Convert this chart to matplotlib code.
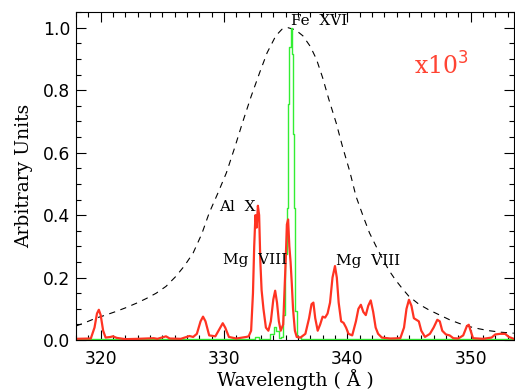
import matplotlib
matplotlib.use("Agg")
import matplotlib.pyplot as plt
from matplotlib.ticker import MultipleLocator

plt.rcParams['lines.scale_dashes'] = False

# Dashed instrument response curve
resp_wl = [318.0, 318.8, 319.6, 320.4, 321.2, 322.0, 322.9, 323.7, 324.5, 325.3,
           326.1, 326.8, 327.5, 328.2, 328.8, 329.5, 330.2, 330.9, 331.5, 332.2,
           332.9, 333.5, 334.2, 334.7, 335.2, 335.8, 336.4, 337.0, 337.5, 338.0,
           338.5, 339.1, 339.6, 340.2, 340.7, 341.3, 341.8, 342.4, 342.9, 343.4,
           343.9, 344.5, 345.0, 345.8, 346.6, 347.5, 348.3, 349.1, 349.9, 350.7,
           351.5, 352.5, 353.5]
resp_val = [0.045, 0.057, 0.070, 0.080, 0.091, 0.103, 0.118, 0.133, 0.150, 0.172,
            0.204, 0.238, 0.279, 0.340, 0.407, 0.470, 0.536, 0.620, 0.696, 0.780,
            0.857, 0.920, 0.974, 0.995, 1.000, 0.993, 0.974, 0.940, 0.899, 0.840,
            0.771, 0.695, 0.621, 0.540, 0.461, 0.395, 0.343, 0.295, 0.257, 0.222,
            0.193, 0.163, 0.140, 0.115, 0.097, 0.080, 0.065, 0.053, 0.043, 0.036,
            0.030, 0.025, 0.022]

# Red spectrum (x10^3)
red_wl = [318.0, 319.2, 319.5, 319.7, 319.85, 320.0, 320.2, 320.4, 320.8, 321.0,
          321.3, 322.0, 323.0, 324.3, 324.6, 325.3, 325.6, 326.5, 327.2, 327.5,
          327.8, 328.1, 328.3, 328.5, 328.8, 329.3, 329.7, 329.9, 330.1, 330.4,
          331.0, 331.8, 332.0, 332.2, 332.35, 332.45, 332.55, 332.65, 332.75, 332.85,
          332.95, 333.05, 333.2, 333.4, 333.6, 333.8, 334.0, 334.15, 334.3, 334.45,
          334.6, 334.8, 334.9, 335.0, 335.1, 335.2, 335.3, 335.4, 335.5, 335.6,
          335.75, 335.9, 336.2, 336.6, 336.9, 337.1, 337.25, 337.4, 337.6, 337.8,
          338.0, 338.2, 338.4, 338.6, 338.8, 339.0, 339.15, 339.3, 339.5, 339.7,
          339.9, 340.1, 340.4, 340.7, 340.9, 341.1, 341.3, 341.5, 341.7, 341.9,
          342.1, 342.3, 342.5, 342.8, 343.5, 344.3, 344.6, 344.8, 345.0, 345.2,
          345.4, 345.6, 345.8, 346.0, 346.3, 346.7, 347.0, 347.3, 347.5, 347.7,
          348.0, 348.3, 348.6, 349.0, 349.4, 349.7, 349.85, 350.0, 350.2, 351.0,
          351.7, 352.0, 352.4, 352.8, 353.1, 353.5]
red_val = [0.004, 0.005, 0.040, 0.085, 0.097, 0.080, 0.030, 0.008, 0.010, 0.012,
           0.007, 0.003, 0.004, 0.006, 0.004, 0.012, 0.005, 0.004, 0.013, 0.010,
           0.020, 0.060, 0.075, 0.060, 0.015, 0.012, 0.040, 0.054, 0.040, 0.010,
           0.005, 0.010, 0.012, 0.030, 0.150, 0.300, 0.400, 0.360, 0.430, 0.400,
           0.250, 0.160, 0.100, 0.040, 0.030, 0.060, 0.130, 0.158, 0.120, 0.060,
           0.030, 0.050, 0.150, 0.250, 0.370, 0.386, 0.300, 0.250, 0.180, 0.100,
           0.030, 0.010, 0.008, 0.020, 0.070, 0.115, 0.120, 0.070, 0.030, 0.050,
           0.075, 0.072, 0.085, 0.120, 0.200, 0.237, 0.200, 0.120, 0.060, 0.055,
           0.040, 0.020, 0.015, 0.060, 0.100, 0.113, 0.090, 0.080, 0.110, 0.127,
           0.090, 0.040, 0.020, 0.008, 0.005, 0.006, 0.040, 0.100, 0.129, 0.110,
           0.070, 0.065, 0.060, 0.030, 0.010, 0.020, 0.040, 0.065, 0.060, 0.030,
           0.018, 0.015, 0.006, 0.005, 0.015, 0.045, 0.049, 0.030, 0.006, 0.004,
           0.008, 0.018, 0.020, 0.020, 0.010, 0.004]

# Green spectrum
green_wl = [318.0, 332.4, 332.7, 333.0, 333.6, 333.9, 334.15, 334.35, 334.55, 334.75,
            334.9, 335.03, 335.13, 335.24, 335.38, 335.46, 335.53, 335.6, 335.73, 335.86,
            336.0, 336.5, 339.0, 353.5]
green_val = [0.002, 0.003, 0.010, 0.003, 0.004, 0.020, 0.043, 0.030, 0.008, 0.010,
             0.080, 0.275, 0.424, 0.756, 0.938, 1.000, 0.917, 0.660, 0.424, 0.092,
             0.010, 0.005, 0.004, 0.002]

fig = plt.figure(figsize=(5.15, 3.9), dpi=100)
ax = fig.add_axes([0.1476, 0.128, 0.850, 0.841])

ax.plot(resp_wl, resp_val, color='black', lw=0.8, dashes=(4.5, 4))
ax.plot(green_wl, green_val, color='#33ee33', lw=1.0, drawstyle='steps-mid')
ax.plot(red_wl, red_val, color='#ff3322', lw=1.6)

ax.set_xlim(318.0, 353.5)
ax.set_ylim(0.0, 1.05)

ax.xaxis.set_major_locator(MultipleLocator(10))
ax.xaxis.set_minor_locator(MultipleLocator(1))
ax.yaxis.set_major_locator(MultipleLocator(0.2))
ax.yaxis.set_minor_locator(MultipleLocator(0.05))
ax.tick_params(which='both', direction='in', top=True, right=True, width=0.8)
ax.tick_params(which='major', length=7)
ax.tick_params(which='minor', length=3.5)
ax.tick_params(axis='x', which='major', pad=7)
ax.tick_params(axis='y', which='major', pad=4)
ax.set_xticks([320, 330, 340, 350])
ax.set_xticklabels(['320', '330', '340', '350'])
ax.set_yticks([0.0, 0.2, 0.4, 0.6, 0.8, 1.0])
ax.set_yticklabels(['0.0', '0.2', '0.4', '0.6', '0.8', '1.0'])
for lab in ax.get_xticklabels() + ax.get_yticklabels():
    lab.set_fontfamily('DejaVu Sans')
    lab.set_fontsize(12.3)
for s in ax.spines.values():
    s.set_linewidth(0.8)

ax.set_xlabel('Wavelength ( Å )', family='DejaVu Serif', fontsize=13.5, labelpad=1)
ax.set_ylabel('Arbitrary Units', family='DejaVu Serif', fontsize=13.5, labelpad=7)

tf = dict(family='DejaVu Serif', fontsize=11, va='center', ha='left')
ax.text(335.45, 1.022, 'Fe  XVI', **tf)
ax.text(329.6, 0.425, 'Al  X', **tf)
ax.text(329.9, 0.257, 'Mg  VIII', **tf)
ax.text(339.1, 0.252, 'Mg  VIII', **tf)
ax.text(345.4, 0.877, 'x10$^3$', family='DejaVu Serif', fontsize=17, color='#ff4433',
        va='center', ha='left')

fig.savefig('out.png', dpi=100)
